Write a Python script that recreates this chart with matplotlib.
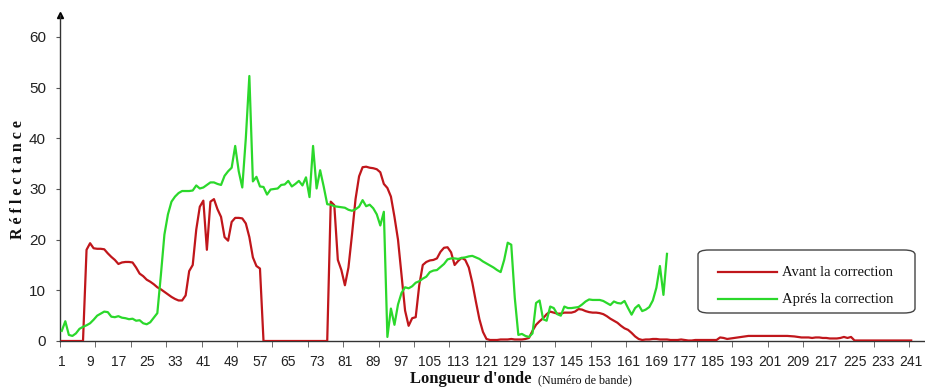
import matplotlib
matplotlib.use("Agg")
import matplotlib.pyplot as plt
from matplotlib.patches import FancyBboxPatch
from matplotlib.lines import Line2D
import numpy as np

# ---- data ----
bands_red = list(range(1, 242))
avant = [
    0, 0, 0, 0, 0, 0, 0, 18.0, 19.3, 18.3,            # 1-10
    18.2, 18.2, 18.1, 17.3, 16.6, 16.0, 15.2, 15.5, 15.6, 15.6,  # 11-20
    15.5, 14.5, 13.3, 12.8, 12.1, 11.7, 11.2, 10.6, 10.2, 9.7,   # 21-30
    9.2, 8.7, 8.3, 8.0, 8.0, 9.0, 13.8, 15.0, 22.0, 26.5,        # 31-40
    27.7, 18.0, 27.5, 28.0, 26.0, 24.5, 20.5, 19.8, 23.5, 24.3,  # 41-50
    24.3, 24.2, 23.2, 20.5, 16.5, 14.8, 14.3, 0, 0, 0,           # 51-60
    0, 0, 0, 0, 0, 0, 0, 0, 0, 0,                                # 61-70
    0, 0, 0, 0, 0, 0, 27.5, 26.8, 16.0, 14.0,                    # 71-80
    11.0, 14.5, 21.0, 28.0, 32.5, 34.3, 34.4, 34.2, 34.1, 33.9,  # 81-90
    33.3, 31.0, 30.2, 28.5, 24.5, 20.0, 13.0, 6.0, 3.0, 4.5,     # 91-100
    4.7, 11.0, 15.0, 15.6, 15.9, 16.0, 16.3, 17.6, 18.4, 18.5,   # 101-110
    17.5, 15.0, 15.8, 16.4, 16.0, 14.5, 11.5, 7.8, 4.3, 1.8,     # 111-120
    0.4, 0.2, 0.2, 0.2, 0.3, 0.3, 0.3, 0.4, 0.3, 0.3,            # 121-130
    0.3, 0.4, 0.6, 2.0, 3.2, 3.9, 4.5, 5.3, 5.8, 5.6,            # 131-140
    5.4, 5.4, 5.6, 5.6, 5.6, 5.8, 6.3, 6.2, 5.9, 5.7,            # 141-150
    5.6, 5.6, 5.5, 5.3, 4.9, 4.4, 4.0, 3.6, 3.0, 2.5,            # 151-160
    2.2, 1.6, 0.9, 0.4, 0.2, 0.3, 0.3, 0.4, 0.4, 0.3,            # 161-170
    0.3, 0.3, 0.2, 0.2, 0.2, 0.3, 0.2, 0.1, 0.1, 0.2,            # 171-180
    0.2, 0.2, 0.2, 0.2, 0.2, 0.2, 0.7, 0.6, 0.4, 0.5,            # 181-190
    0.6, 0.7, 0.8, 0.9, 1.0, 1.0, 1.0, 1.0, 1.0, 1.0,            # 191-200
    1.0, 1.0, 1.0, 1.0, 1.0, 1.0, 0.95, 0.9, 0.8, 0.7,           # 201-210
    0.7, 0.7, 0.6, 0.7, 0.7, 0.6, 0.6, 0.5, 0.5, 0.5,            # 211-220
    0.6, 0.8, 0.6, 0.8, 0.1, 0.1, 0.1, 0.1, 0.1, 0.1,            # 221-230
    0.1, 0.1, 0.1, 0.1, 0.1, 0.1, 0.1, 0.1, 0.1, 0.1,            # 231-240
    0.1,                                                          # 241
]
bands_green = list(range(1, 173))
apres = [
    2.0, 3.9, 1.2, 1.0, 1.5, 2.4, 2.8, 3.1, 3.5, 4.2,            # 1-10
    5.0, 5.4, 5.8, 5.7, 4.8, 4.7, 4.9, 4.6, 4.5, 4.3,            # 11-20
    4.4, 4.0, 4.1, 3.5, 3.3, 3.7, 4.6, 5.5, 13.0, 21.0,          # 21-30
    25.0, 27.5, 28.5, 29.2, 29.6, 29.6, 29.6, 29.7, 30.7, 30.1,  # 31-40
    30.3, 30.8, 31.3, 31.3, 31.0, 30.8, 32.6, 33.5, 34.2, 38.5,  # 41-50
    33.5, 30.3, 40.0, 52.3, 31.5, 32.4, 30.5, 30.4, 28.9, 29.9,  # 51-60
    30.0, 30.1, 30.8, 30.9, 31.6, 30.5, 31.0, 31.6, 30.7, 32.3,  # 61-70
    28.4, 38.5, 30.1, 33.7, 30.5, 27.0, 26.9, 26.6, 26.5, 26.4,  # 71-80
    26.3, 25.9, 25.7, 26.0, 26.5, 27.8, 26.6, 26.9, 26.2, 25.0,  # 81-90
    22.8, 25.5, 0.8, 6.4, 3.2, 7.2, 9.5, 10.6, 10.4, 10.8,       # 91-100
    11.5, 11.8, 12.3, 12.7, 13.6, 13.9, 14.0, 14.6, 15.2, 16.1,  # 101-110
    16.3, 16.3, 16.2, 16.4, 16.5, 16.7, 16.8, 16.5, 16.2, 15.7,  # 111-120
    15.3, 14.9, 14.5, 14.0, 13.6, 16.0, 19.4, 19.0, 8.5, 1.2,    # 121-130
    1.4, 1.0, 0.8, 1.5, 7.5, 8.0, 4.3, 4.0, 6.8, 6.5,            # 131-140
    5.3, 5.0, 6.8, 6.5, 6.5, 6.6, 6.7, 7.2, 7.8, 8.2,            # 141-150
    8.1, 8.1, 8.1, 7.9, 7.5, 7.1, 7.8, 7.5, 7.4, 7.9,            # 151-160
    6.5, 5.2, 6.5, 7.1, 5.9, 6.2, 6.7, 8.0, 10.5, 14.8,          # 161-170
    9.1, 17.2,                                                    # 171-172
]
label_avant = "Avant la correction"
label_apres = "Aprés la correction"
xtick_labels = list(range(1, 242, 8))
ytick_vals = [0, 10, 20, 30, 40, 50, 60]

# ---- figure ----
W, H = 925, 387
fig = plt.figure(figsize=(W / 100, H / 100), dpi=100)
fig.patch.set_facecolor("white")
ax = fig.add_axes([60 / W, 46 / H, (W - 60) / W, (372 - 46) / H])

red = "#C0161B"
green = "#2BD82B"
ax.plot(bands_red, avant, color=red, lw=1.6, label=label_avant, zorder=3)
ax.plot(bands_green, apres, color=green, lw=1.6, label=label_apres, zorder=4)

ax.set_xlim(0.5, 244.9)
ax.set_ylim(0, 64.34)

for s in ["top", "right"]:
    ax.spines[s].set_visible(False)
for s in ["left", "bottom"]:
    ax.spines[s].set_color("#333333")
    ax.spines[s].set_linewidth(1.0)

xtick_font = dict(family="Liberation Sans", size=10, color="#222222")
ytick_font = dict(family="Liberation Sans", size=11, color="#222222")
ax.set_xticks(xtick_labels)
ax.set_xticklabels([str(v) for v in xtick_labels], fontdict=xtick_font)
ax.set_xticks(np.arange(0.5, 245, 10), minor=True)
ax.tick_params(axis="x", which="major", length=0, pad=10)
ax.tick_params(axis="x", which="minor", length=4, color="#555555", direction="out")
ax.set_yticks(ytick_vals)
ax.set_yticklabels([str(v) for v in ytick_vals], fontdict=ytick_font)
ax.tick_params(axis="y", which="major", length=3, color="#555555", pad=7)

# arrow at top of y axis
ax.plot([0], [1], marker="^", color="black", markersize=5, transform=ax.transAxes, clip_on=False)

# axis labels
fig.text(18 / W, 1 - 180 / H, "R é f l e c t a n c e", rotation=90, ha="center", va="center",
         family="Liberation Serif", fontweight="bold", fontsize=11.5, color="#111111")
fig.text(410 / W, 4 / H, "Longueur d'onde", ha="left", va="baseline",
         family="Liberation Serif", fontweight="bold", fontsize=12, color="#111111")
fig.text(538 / W, 4 / H, "(Numéro de bande)", ha="left", va="baseline",
         family="Liberation Serif", fontsize=8.7, color="#111111")

# legend (drawn as a framed box in figure pixels)
def fx(px):
    return px / W

def fy(py):
    return 1 - py / H

box = FancyBboxPatch((fx(698), fy(313)), fx(915) - fx(698), fy(250) - fy(313),
                     boxstyle="round,pad=0,rounding_size=0.012", transform=fig.transFigure,
                     facecolor="white", edgecolor="#444444", linewidth=1.0, zorder=10)
fig.add_artist(box)
for py, col, lab in [(272, red, label_avant), (299, green, label_apres)]:
    fig.add_artist(Line2D([fx(718), fx(777)], [fy(py), fy(py)], color=col, lw=1.6,
                          transform=fig.transFigure, zorder=11))
    fig.text(fx(782), fy(py), lab, ha="left", va="center", family="Liberation Serif",
             fontsize=10.5, color="#111111", zorder=12)

fig.savefig("out.png", dpi=100, facecolor="white")
